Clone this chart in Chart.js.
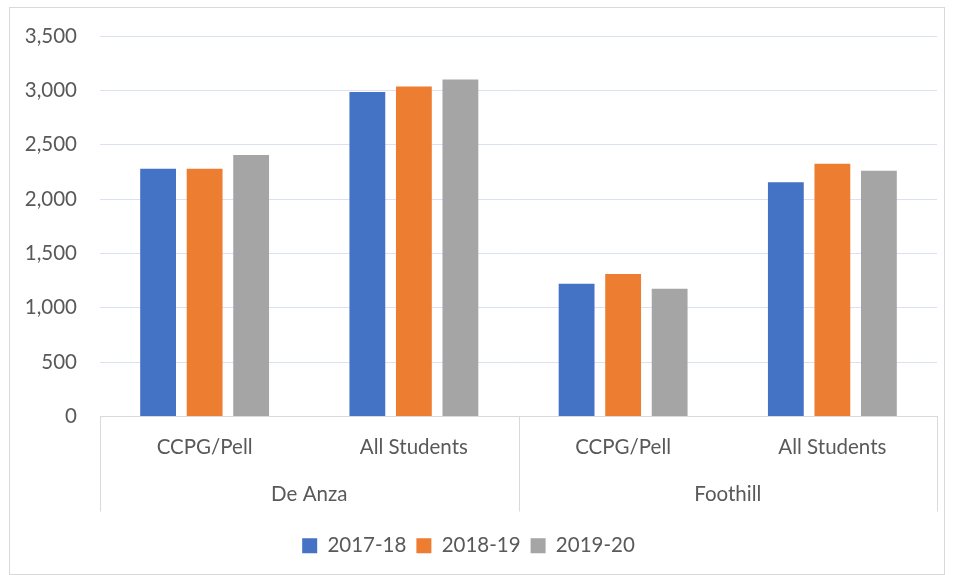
<!DOCTYPE html>
<html>
<head>
<meta charset="utf-8">
<script src="https://cdn.jsdelivr.net/npm/chart.js@4.4.1/dist/chart.umd.min.js"></script>
<style>
  html, body { margin: 0; padding: 0; background: #ffffff; }
  #wrap { position: relative; width: 954px; height: 575px; }
  canvas { display: block; }
</style>
</head>
<body>
<div id="wrap"><canvas id="c" width="954" height="575"></canvas></div>
<script>
const categories = ["CCPG/Pell", "All Students", "CCPG/Pell", "All Students"];
const groups = ["De Anza", "Foothill"];
const seriesNames = ["2017-18", "2018-19", "2019-20"];
const values2017 = [2280, 2985, 1220, 2155];
const values2018 = [2280, 3035, 1310, 2325];
const values2019 = [2405, 3100, 1175, 2260];
const yTicks = [0, 500, 1000, 1500, 2000, 2500, 3000, 3500];

const colors = ["#4472C4", "#ED7D31", "#A5A5A5"];
const textColor = "#595959";
const fontFamily = "Lato, 'Open Sans', sans-serif";
const fontSize = 20.5;
const xAxisLines = 95;
const xAxisHeight = 109;

const groupPlugin = {
  id: "groupAxis",
  beforeDraw(chart) {
    const ctx = chart.ctx;
    ctx.save();
    ctx.strokeStyle = "#d9d9d9";
    ctx.lineWidth = 1;
    ctx.strokeRect(9.5, 7.5, 935, 567);
    ctx.restore();
  },
  afterDraw(chart) {
    const ctx = chart.ctx;
    const x = chart.scales.x;
    const top = chart.chartArea.bottom;
    const bottom = top + xAxisLines;
    const left = x.left;
    const right = x.right;
    const mid = (x.getPixelForValue(1) + x.getPixelForValue(2)) / 2;
    ctx.save();
    ctx.strokeStyle = "#d9d9d9";
    ctx.lineWidth = 1;
    [left, mid, right].forEach(px => {
      const p = Math.round(px) + 0.5;
      ctx.beginPath();
      ctx.moveTo(p, top);
      ctx.lineTo(p, bottom);
      ctx.stroke();
    });
    ctx.fillStyle = textColor;
    ctx.font = fontSize + "px " + fontFamily;
    ctx.textAlign = "center";
    ctx.textBaseline = "middle";
    const y = top + 78;
    ctx.fillText(groups[0], (left + mid) / 2, y);
    ctx.fillText(groups[1], (mid + right) / 2, y);
    ctx.restore();
  }
};

new Chart(document.getElementById("c"), {
  type: "bar",
  data: {
    labels: categories,
    datasets: [
      { label: seriesNames[0], data: values2017, backgroundColor: colors[0] },
      { label: seriesNames[1], data: values2018, backgroundColor: colors[1] },
      { label: seriesNames[2], data: values2019, backgroundColor: colors[2] }
    ]
  },
  options: {
    responsive: false,
    animation: false,
    devicePixelRatio: 1,
    layout: { padding: { top: 36, right: 17, left: 0, bottom: 9 } },
    datasets: { bar: { categoryPercentage: 0.667, barPercentage: 0.77 } },
    plugins: {
      legend: {
        position: "bottom",
        labels: {
          color: textColor,
          font: { family: fontFamily, size: fontSize },
          boxWidth: 15,
          boxHeight: 15,
          padding: 10
        }
      },
      tooltip: { enabled: false }
    },
    scales: {
      x: {
        grid: { display: false, drawTicks: false },
        border: { display: true, color: "#d9d9d9" },
        ticks: {
          color: textColor,
          font: { family: fontFamily, size: fontSize },
          padding: 19,
          maxRotation: 0
        },
        afterFit(scale) { scale.height = xAxisHeight; }
      },
      y: {
        min: 0,
        max: 3500,
        afterBuildTicks(scale) { scale.ticks = yTicks.map(v => ({ value: v })); },
        grid: {
          drawTicks: false,
          color: ctx => (ctx.tick && ctx.tick.value === 0) ? "#d9d9d9" : "#d9e1f2",
          lineWidth: 1
        },
        border: { display: false },
        ticks: {
          color: textColor,
          font: { family: fontFamily, size: fontSize },
          padding: 23,
          callback: v => Number(v).toLocaleString("en-US")
        },
        afterFit(scale) { scale.width = 100; }
      }
    }
  },
  plugins: [groupPlugin]
});
</script>
</body>
</html>
